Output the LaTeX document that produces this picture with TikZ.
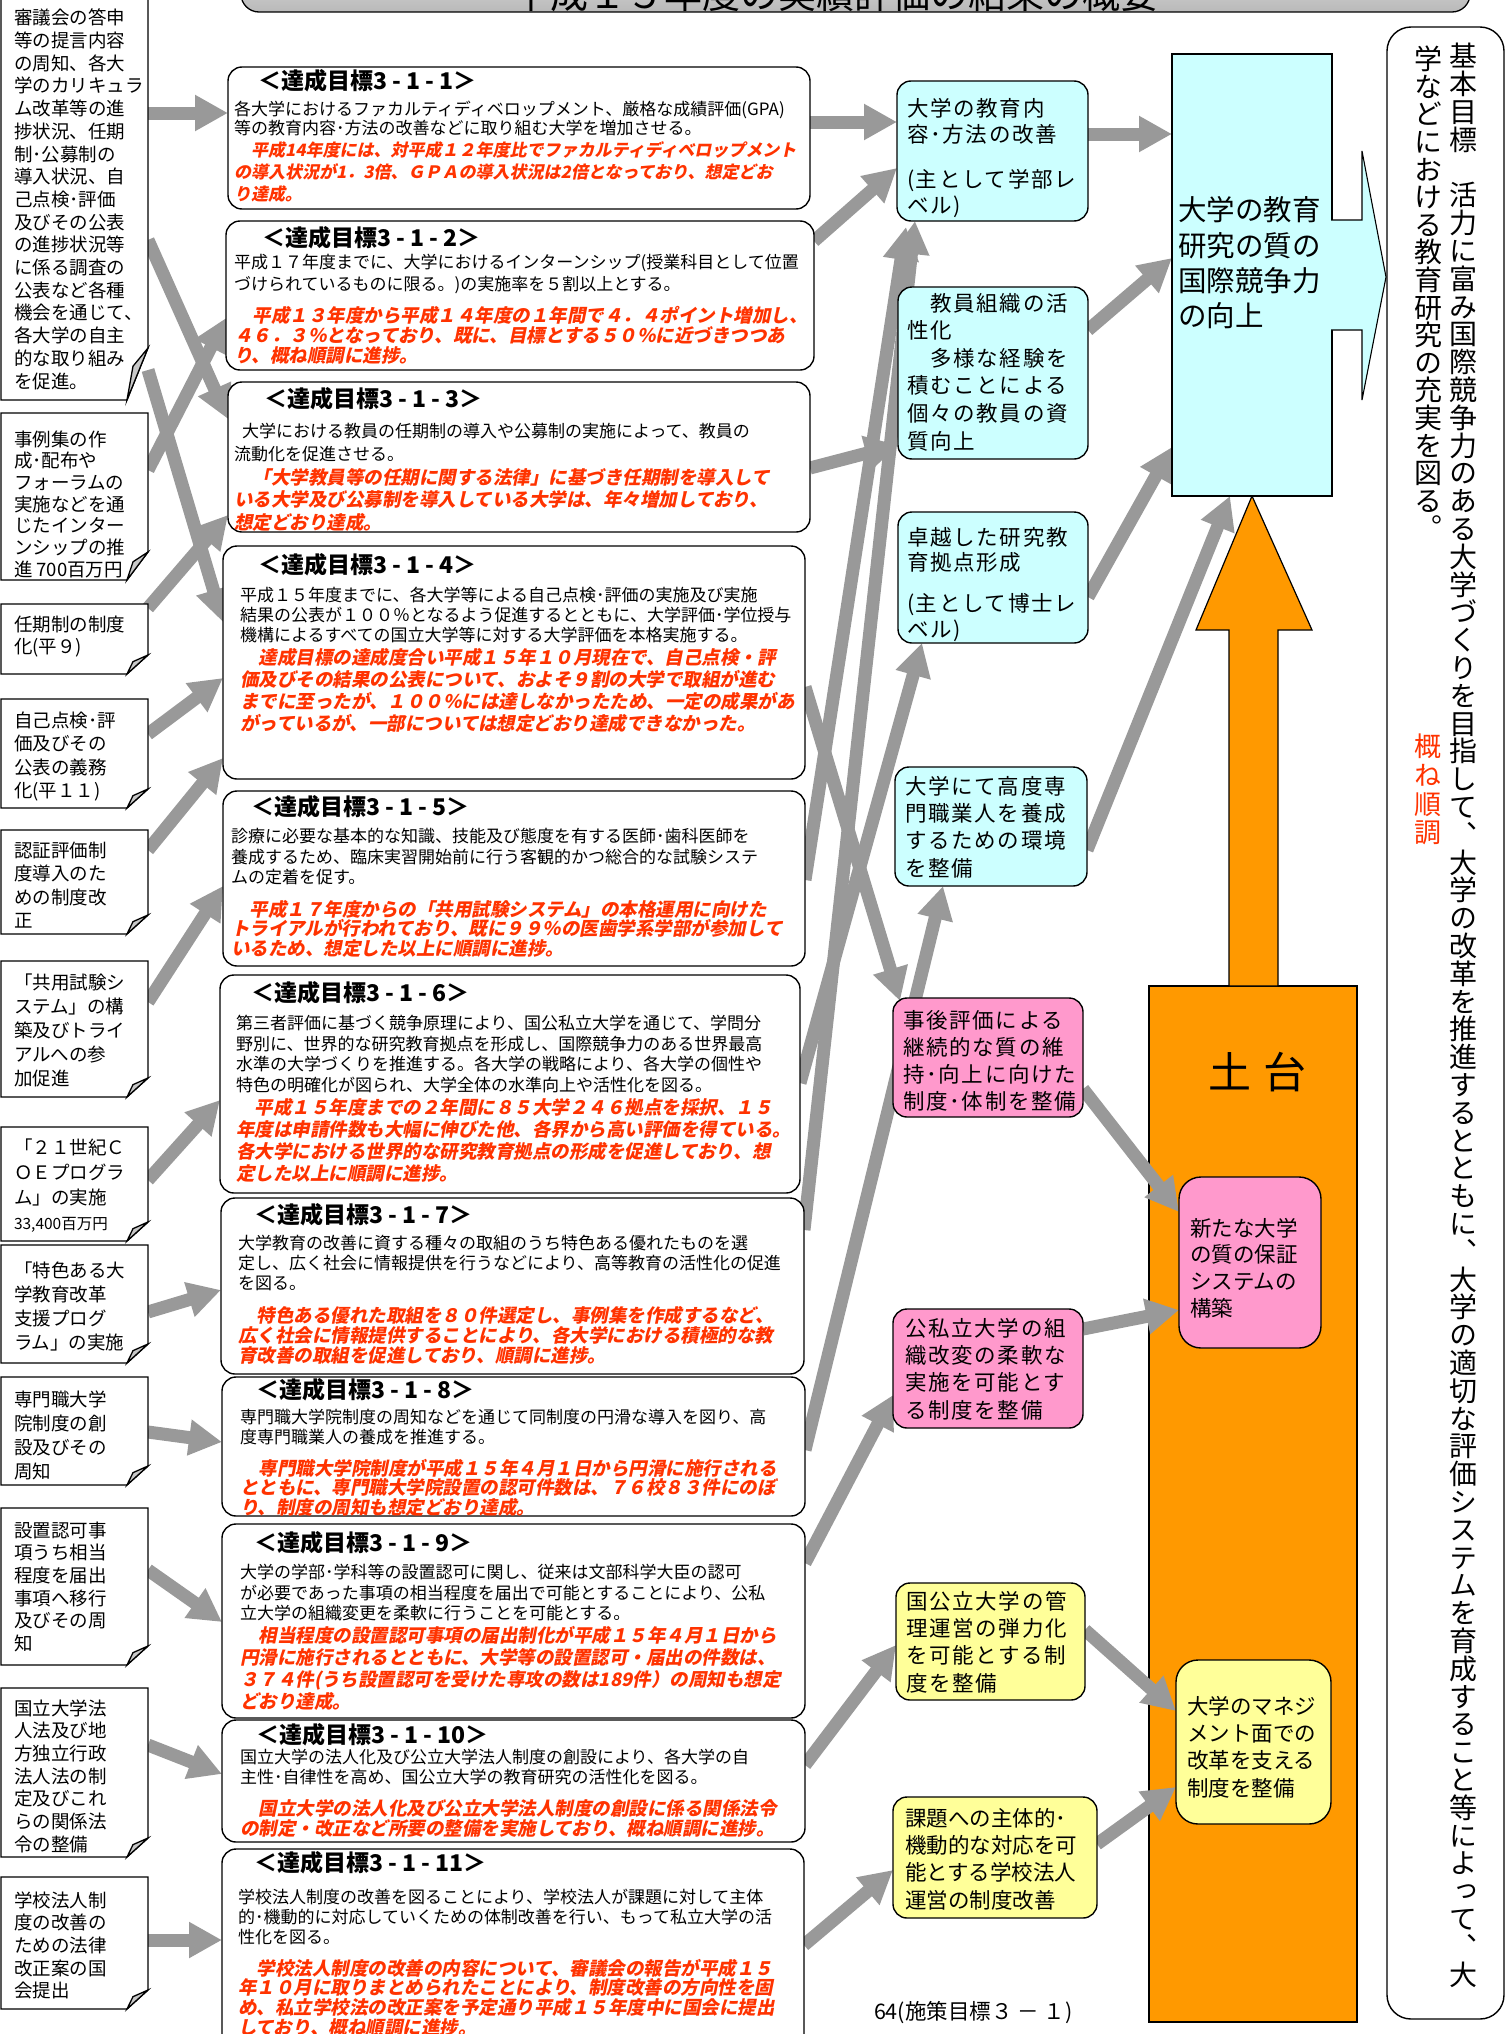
\documentclass[tikz,border=0pt]{standalone}
\usepackage{fontspec}
\newfontfamily\jp{Noto Sans CJK JP}
\newfontfamily\jpw{Noto Sans CJK JP}[LetterSpace=8]
\newfontfamily\jpsl{Noto Sans CJK JP}[FakeSlant=0.2]
\newfontfamily\jpv{Noto Sans CJK JP}[RawFeature=+vert]
\usetikzlibrary{arrows.meta,fit}
\pgfdeclarelayer{back}
\pgfdeclarelayer{mid}
\pgfsetlayers{back,mid,main}
\definecolor{agray}{RGB}{153,153,153}
\definecolor{redc}{RGB}{255,51,0}
\definecolor{cyanf}{RGB}{204,255,255}
\definecolor{pinkf}{RGB}{255,153,204}
\definecolor{yellf}{RGB}{255,255,153}
\definecolor{orangef}{RGB}{255,153,0}
\definecolor{foldg}{RGB}{200,200,200}
\newcommand\fl{\rule{0pt}{0.9em}}
\makeatletter
\newcommand\VStack[2]{\vbox{\offinterlineskip\@tfor\vs@c:=#2\do{\kern#1pt\hbox to 1em{\hss\smash{\vs@c}\hss}}}}
\makeatother
\newcommand\LBox[4]{%
 \node[fit={(1,#2) (148,#3)}] (#1) {};
 \draw[lbl, fill=white] (#1.north west) -- (#1.north east) -- ([yshift=#4pt]#1.south east) -- ([xshift=-21pt]#1.south east) -- (#1.south west) -- cycle;
 \draw[lbl, fill=foldg] ([xshift=-21pt]#1.south east) -- ([xshift=-15pt,yshift=0.65*#4pt]#1.south east) -- ([yshift=#4pt]#1.south east) -- cycle;}
\begin{document}
\begin{tikzpicture}[x=1pt,y=-1pt,
 every node/.style={inner sep=0pt, outer sep=0pt},
 lbl/.style={draw=black, line width=1.3pt},
 mbox/.style={draw=black, line width=1.4pt, rounded corners=14pt, fill=white},
 rbox/.style={draw=black, line width=1.4pt, rounded corners=14pt},
 bt/.style={anchor=north west, align=left, font=\jp\fontsize{17pt}{#1pt}\selectfont},
 rt/.style={anchor=north west, align=left, text=redc, font=\jpsl\bfseries\fontsize{18.5pt}{#1pt}\selectfont},
 rts/.style={anchor=north west, align=left, text=redc, font=\jpsl\bfseries\fontsize{17pt}{#1pt}\selectfont},
 tt/.style={anchor=north west, font=\jp\bfseries\fontsize{23pt}{23pt}\selectfont},
 lt/.style={anchor=north west, align=left, font=\jp\fontsize{18.5pt}{#1pt}\selectfont},
 qt/.style={anchor=north west, align=left, font=\jpw\fontsize{21.5pt}{#1pt}\selectfont},
 qn/.style={anchor=north west, align=left, font=\jp\fontsize{21.5pt}{#1pt}\selectfont},
 garrow/.style={draw=agray, line width=13pt, -{Triangle[width=34pt,length=33pt]}}
]
\useasboundingbox (0,0) rectangle (1508,2034);

% ---------- title ----------
\begin{pgfonlayer}{back}
\node[fit={(241,-60) (1470,12)}, draw=black, line width=1.3pt, rounded corners=18pt, top color=gray!12, bottom color=gray!55] (titlebox) {};
\node[anchor=base, font=\jp\fontsize{38pt}{38pt}\selectfont] (title) at (835,9) {平成１５年度の実績評価の結果の概要};
\node[fit={(1149,986) (1357,2022)}, draw=black, line width=1.2pt, fill=orangef] (dodai) {};
\end{pgfonlayer}

% ---------- left column ----------
\LBox{A}{-10}{400}{52}
\LBox{B}{413}{580}{28}
\LBox{C}{604}{674}{19}
\LBox{D}{699}{808}{19}
\LBox{E}{830}{934}{19}
\LBox{F}{961}{1097}{19}
\LBox{G}{1127}{1241}{19}
\LBox{H}{1245}{1363}{19}
\LBox{I}{1377}{1485}{19}
\LBox{J}{1508}{1665}{19}
\LBox{K}{1688}{1857}{19}
\LBox{L}{1877}{2009}{19}

\node[lt=22.7] (At) at (14,17.8-9.6) {\fl 審議会の答申\\等の提言内容\\の周知、各大\\学のカリキュラ\\ム改革等の進\\捗状況、任期\\制･公募制の\\導入状況、自\\己点検･評価\\及びその公表\\の進捗状況等\\に係る調査の\\公表など各種\\機会を通じて、\\各大学の自主\\的な取り組み\\を促進。};
\node[lt=21.7] (Bt) at (14,439-9.6) {\fl 事例集の作\\成･配布や\\フォーラムの\\実施などを通\\じたインター\\ンシップの推\\進 700百万円};
\node[lt=22.5] (Ct) at (14,624-9.6) {\fl 任期制の制度\\化(平９)};
\node[lt=23.5] (Dt) at (14,720-9.6) {\fl 自己点検･評\\価及びその\\公表の義務\\化(平１１)};
\node[lt=23.5] (Et) at (14,850-9.6) {\fl 認証評価制\\度導入のた\\めの制度改\\正};
\node[lt=24] (Ft) at (14,982-9.6) {\fl 「共用試験シ\\ステム」の構\\築及びトライ\\アルへの参\\加促進};
\node[lt=25] (Gt) at (14,1147-9.6) {\fl 「２１世紀Ｃ\\ＯＥプログラ\\ム」の実施};
\node[anchor=north west, font=\jp\fontsize{15.5pt}{15.5pt}\selectfont] (Gt2) at (14,1224-8.1) {\fl 33,400百万円};
\node[lt=24] (Ht) at (14,1270-9.6) {\fl 「特色ある大\\学教育改革\\支援プログ\\ラム」の実施};
\node[lt=24] (It) at (14,1399-9.6) {\fl 専門職大学\\院制度の創\\設及びその\\周知};
\node[lt=22.7] (Jt) at (14,1530-9.6) {\fl 設置認可事\\項うち相当\\程度を届出\\事項へ移行\\及びその周\\知};
\node[lt=22.7] (Kt) at (14,1708-9.6) {\fl 国立大学法\\人法及び地\\方独立行政\\法人法の制\\定及びこれ\\らの関係法\\令の整備};
\node[lt=22.7] (Lt) at (14,1900-9.6) {\fl 学校法人制\\度の改善の\\ための法律\\改正案の国\\会提出};

% ---------- middle column ----------
\node[mbox, fit={(228,67) (810,209)}] (g1) {};
\node[mbox, fit={(226,221) (814,370)}] (g2) {};
\node[mbox, fit={(228,382) (810,532)}] (g3) {};
\node[mbox, fit={(223,546) (805,779)}] (g4) {};
\node[mbox, fit={(223,791) (805,966)}] (g5) {};
\node[mbox, fit={(220,975) (800,1193)}] (g6) {};
\node[mbox, fit={(221,1198) (804,1374)}] (g7) {};
\node[mbox, fit={(222,1377) (805,1516)}] (g8) {};
\node[mbox, fit={(222,1524) (805,1718)}] (g9) {};
\node[mbox, fit={(222,1720) (805,1842)}] (g10) {};
\node[mbox, fit={(222,1849) (804,2070)}] (g11) {};

\node[tt] (g1h) at (258,81-12) {\fl ＜達成目標3 - 1 - 1＞};
\node[bt=19.6] (g1b) at (234,108.5-8.8) {\fl 各大学におけるファカルティディベロップメント、厳格な成績評価(GPA)\\等の教育内容･方法の改善などに取り組む大学を増加させる。};
\node[rts=22.2] (g1r) at (234,150-8.8) {\fl 　平成14年度には、対平成１２年度比でファカルティディベロップメント\\の導入状況が1．3倍、ＧＰＡの導入状況は2倍となっており、想定どお\\り達成。};

\node[tt] (g2h) at (262,238-12) {\fl ＜達成目標3 - 1 - 2＞};
\node[bt=22] (g2b) at (234,262-8.8) {\fl 平成１７年度までに、大学におけるインターンシップ(授業科目として位置\\づけられているものに限る。)の実施率を５割以上とする。};
\node[rt=20] (g2r) at (234,315-9.6) {\fl 　平成１３年度から平成１４年度の１年間で４．４ポイント増加し、\\４６．３％となっており、既に、目標とする５０％に近づきつつあ\\り、概ね順調に進捗。};

\node[tt] (g3h) at (264,399-12) {\fl ＜達成目標3 - 1 - 3＞};
\node[bt=23] (g3b) at (234,431-8.8) {\fl \hspace{8pt}大学における教員の任期制の導入や公募制の実施によって、教員の\\流動化を促進させる。};
\node[rt=22.5] (g3r) at (234,477-9.6) {\fl 　「大学教員等の任期に関する法律」に基づき任期制を導入して\\いる大学及び公募制を導入している大学は、年々増加しており、\\想定どおり達成。};

\node[tt] (g4h) at (258,565-12) {\fl ＜達成目標3 - 1 - 4＞};
\node[bt=20] (g4b) at (240,595-8.8) {\fl 平成１５年度までに、各大学等による自己点検･評価の実施及び実施\\結果の公表が１００％となるよう促進するとともに、大学評価･学位授与\\機構によるすべての国立大学等に対する大学評価を本格実施する。};
\node[rt=22.3] (g4r) at (240,657-9.6) {\fl 　達成目標の達成度合い平成１５年１０月現在で、自己点検・評\\価及びその結果の公表について、およそ９割の大学で取組が進む\\までに至ったが、１００％には達しなかったため、一定の成果があ\\がっているが、一部については想定どおり達成できなかった。};

\node[tt] (g5h) at (251,807-12) {\fl ＜達成目標3 - 1 - 5＞};
\node[bt=20.5] (g5b) at (231,836-8.8) {\fl 診療に必要な基本的な知識、技能及び態度を有する医師･歯科医師を\\養成するため、臨床実習開始前に行う客観的かつ総合的な試験システ\\ムの定着を促す。};
\node[rt=19.5] (g5r) at (231,909-9.6) {\fl 　平成１７年度からの「共用試験システム」の本格運用に向けた\\トライアルが行われており、既に９９％の医歯学系学部が参加して\\いるため、想定した以上に順調に進捗。};

\node[tt] (g6h) at (251,993-12) {\fl ＜達成目標3 - 1 - 6＞};
\node[bt=20.7] (g6b) at (236,1023-8.8) {\fl 第三者評価に基づく競争原理により、国公私立大学を通じて、学問分\\野別に、世界的な研究教育拠点を形成し、国際競争力のある世界最高\\水準の大学づくりを推進する。各大学の戦略により、各大学の個性や\\特色の明確化が図られ、大学全体の水準向上や活性化を図る。};
\node[rt=22.3] (g6r) at (236,1107-9.6) {\fl 　平成１５年度までの２年間に８５大学２４６拠点を採択、１５\\年度は申請件数も大幅に伸びた他、各界から高い評価を得ている。\\各大学における世界的な研究教育拠点の形成を促進しており、想\\定した以上に順調に進捗。};

\node[tt] (g7h) at (254,1215-12) {\fl ＜達成目標3 - 1 - 7＞};
\node[bt=20] (g7b) at (238,1243-8.8) {\fl 大学教育の改善に資する種々の取組のうち特色ある優れたものを選\\定し、広く社会に情報提供を行うなどにより、高等教育の活性化の促進\\を図る。};
\node[rt=20] (g7r) at (238,1315-9.6) {\fl 　特色ある優れた取組を８０件選定し、事例集を作成するなど、\\広く社会に情報提供することにより、各大学における積極的な教\\育改善の取組を促進しており、順調に進捗。};

\node[tt] (g8h) at (256,1390-12) {\fl ＜達成目標3 - 1 - 8＞};
\node[bt=20] (g8b) at (240,1417-8.8) {\fl 専門職大学院制度の周知などを通じて同制度の円滑な導入を図り、高\\度専門職業人の養成を推進する。};
\node[rt=19.5] (g8r) at (240,1468-9.6) {\fl 　専門職大学院制度が平成１５年４月１日から円滑に施行される\\とともに、専門職大学院設置の認可件数は、７６校８３件にのぼ\\り、制度の周知も想定どおり達成。};

\node[tt] (g9h) at (254,1543-12) {\fl ＜達成目標3 - 1 - 9＞};
\node[bt=20.5] (g9b) at (240,1572-8.8) {\fl 大学の学部･学科等の設置認可に関し、従来は文部科学大臣の認可\\が必要であった事項の相当程度を届出で可能とすることにより、公私\\立大学の組織変更を柔軟に行うことを可能とする。};
\node[rt=22.3] (g9r) at (240,1635-9.6) {\fl 　相当程度の設置認可事項の届出制化が平成１５年４月１日から\\円滑に施行されるとともに、大学等の設置認可・届出の件数は、\\３７４件(うち設置認可を受けた専攻の数は189件）の周知も想定\\どおり達成。};

\node[tt] (g10h) at (256,1735-12) {\fl ＜達成目標3 - 1 - 10＞};
\node[bt=20] (g10b) at (240,1757-8.8) {\fl 国立大学の法人化及び公立大学法人制度の創設により、各大学の自\\主性･自律性を高め、国公立大学の教育研究の活性化を図る。};
\node[rt=20] (g10r) at (240,1808-9.6) {\fl 　国立大学の法人化及び公立大学法人制度の創設に係る関係法令\\の制定・改正など所要の整備を実施しており、概ね順調に進捗。};

\node[tt] (g11h) at (254,1863-12) {\fl ＜達成目標3 - 1 - 11＞};
\node[bt=20] (g11b) at (238,1897-8.8) {\fl 学校法人制度の改善を図ることにより、学校法人が課題に対して主体\\的･機動的に対応していくための体制改善を行い、もって私立大学の活\\性化を図る。};
\node[rt=19.7] (g11r) at (238,1968-9.6) {\fl 　学校法人制度の改善の内容について、審議会の報告が平成１５\\年１０月に取りまとめられたことにより、制度改善の方向性を固\\め、私立学校法の改正案を予定通り平成１５年度中に国会に提出\\しており、概ね順調に進捗。};

% ---------- right column ----------
\node[rbox, fill=cyanf, fit={(897,81) (1088,221)}] (r1) {};
\node[rbox, fill=cyanf, fit={(898,287) (1088,459)}] (r2) {};
\node[rbox, fill=cyanf, fit={(898,512) (1088,643)}] (r3) {};
\node[rbox, fill=cyanf, fit={(895,767) (1087,886)}] (r4) {};
\node[rbox, fill=pinkf, fit={(893,998) (1083,1117)}] (p1) {};
\node[rbox, fill=pinkf, fit={(893,1309) (1083,1428)}] (p2) {};
\node[rbox, fill=yellf, fit={(896,1583) (1085,1700)}] (y1) {};
\node[rbox, fill=yellf, fit={(893,1797) (1097,1918)}] (y2) {};

\node[qt=26.5] (r1t) at (907,108-11.2) {\fl 大学の教育内\\容･方法の改善};
\node[qt=26.5] (r1u) at (907,179-11.2) {\fl (主として学部レ\\ベル)};
\node[qt=27.6] (r2t) at (907,303-11.2) {\fl 　教員組織の活\\性化\\　多様な経験を\\積むことによる\\個々の教員の資\\質向上};
\node[qt=25.5] (r3t) at (907,537-11.2) {\fl 卓越した研究教\\育拠点形成};
\node[qt=26.5] (r3u) at (907,603-11.2) {\fl (主として博士レ\\ベル)};
\node[qt=27.4] (r4t) at (905,786-11.2) {\fl 大学にて高度専\\門職業人を養成\\するための環境\\を整備};
\node[qt=27] (p1t) at (903,1020-11.2) {\fl 事後評価による\\継続的な質の維\\持･向上に向けた\\制度･体制を整備};
\node[qt=27.3] (p2t) at (905,1328-11.2) {\fl 公私立大学の組\\織改変の柔軟な\\実施を可能とす\\る制度を整備};
\node[qt=27.3] (y1t) at (906,1601-11.2) {\fl 国公立大学の管\\理運営の弾力化\\を可能とする制\\度を整備};
\node[qn=27.3] (y2t) at (905,1818-11.2) {\fl 課題への主体的･\\機動的な対応を可\\能とする学校法人\\運営の制度改善};

% ---------- right block ----------
\node[fit={(1172,54) (1332,496)}, draw=black, line width=1.1pt, fill=cyanf] (big) {};
\node[anchor=north west, align=left, font=\jp\fontsize{28.5pt}{35.2pt}\selectfont] (bigt) at (1178,210-14.8) {\fl 大学の教育\\研究の質の\\国際競争力\\の向上};
\path[fill=cyanf, draw=black, line width=1.1pt, line join=miter]
 ([xshift=-1pt,yshift=55pt]big.east) -- ([xshift=30pt,yshift=55pt]big.east) -- ([xshift=30pt,yshift=124pt]big.east) -- ([xshift=54pt,yshift=-2pt]big.east) -- ([xshift=30pt,yshift=-125pt]big.east) -- ([xshift=30pt,yshift=-55pt]big.east) -- ([xshift=-1pt,yshift=-55pt]big.east);

\node[fit={(1387,27) (1504,2019)}, draw=black, line width=1.4pt, rounded corners=24pt, fill=white] (goal) {};
\node[anchor=north, font=\jpv\fontsize{28pt}{28pt}\selectfont] (vt1) at (1463,39) {\VStack{27.8}{基本目標　活力に富み国際競争力のある大学づくりを目指して、大学の改革を推進するとともに、大学の適切な評価システムを育成すること等によって、大}};
\node[anchor=north, font=\jpv\fontsize{28pt}{28pt}\selectfont] (vt2) at (1428,42) {\VStack{27.6}{学などにおける教育研究の充実を図る。}};
\node[anchor=north, text=redc, font=\jpv\fontsize{27pt}{27pt}\selectfont] (vt3) at (1428,728) {\VStack{28.7}{概ね順調}};

\begin{pgfonlayer}{back}
\draw[fill=orangef, line width=1.2pt, line join=miter] (big.south) -- ([xshift=59pt,yshift=356pt]dodai.north) -- ([xshift=25pt,yshift=356pt]dodai.north) -- ([xshift=25pt]dodai.north) -- ([xshift=-24pt]dodai.north) -- ([xshift=-24pt,yshift=356pt]dodai.north) -- ([xshift=-57pt,yshift=356pt]dodai.north) -- cycle;
\end{pgfonlayer}
\node[font=\jp\fontsize{43pt}{43pt}\selectfont] (dodait) at (1257,1072) {土\hspace{12pt}台};
\node[rbox, fill=pinkf, rounded corners=22pt, fit={(1179,1177) (1321,1348)}] (n1) {};
\node[rbox, fill=yellf, rounded corners=22pt, fit={(1176,1660) (1331,1824)}] (n2) {};
\node[qn=26.8] (n1t) at (1190,1228-11.2) {\fl 新たな大学\\の質の保証\\システムの\\構築};
\node[qn=27.3] (n2t) at (1187,1706-11.2) {\fl 大学のマネジ\\メント面での\\改革を支える\\制度を整備};

\node[anchor=north west, font=\jp\fontsize{21.5pt}{21.5pt}\selectfont] (foot) at (874,2011-11.2) {\fl 64(施策目標３ － １)};

% ---------- connectors ----------
\begin{pgfonlayer}{mid}
\draw[garrow] (A.east |- 0,113) -- (g1.west |- 0,113);
\draw[garrow] (A.east |- 0,240) -- (g3.west |- 0,419);
\draw[garrow] (A.east |- 0,370) -- (g4.west |- 0,622);
\draw[garrow] (B.east |- 0,470) -- (g2.west |- 0,318);
\draw[garrow] (C.east |- 0,608) -- (g3.west |- 0,515);
\draw[garrow] (D.east |- 0,734) -- (g4.west |- 0,678);
\draw[garrow] (E.east |- 0,850) -- (g4.west |- 0,758);
\draw[garrow] (F.east |- 0,1002) -- (g5.west |- 0,886);
\draw[garrow] (G.east |- 0,1180) -- (g6.west |- 0,1100);
\draw[garrow] (H.east |- 0,1312) -- (g7.west |- 0,1290);
\draw[garrow] (I.east |- 0,1432) -- (g8.west |- 0,1442);
\draw[garrow] (J.east |- 0,1570) -- (g9.west |- 0,1622);
\draw[garrow] (K.east |- 0,1745) -- (g10.west |- 0,1774);
\draw[garrow] (L.east |- 0,1940) -- (g11.west |- 0,1940);

\draw[garrow] (g1.east |- 0,122) -- (r1.west |- 0,122);
\draw[garrow] (g2.east |- 0,241) -- (r1.west |- 0,168);
\draw[garrow] (g3.east |- 0,468) -- (r2.west |- 0,445);
\draw[garrow] (g4.east |- 0,687) -- ([xshift=7pt,yshift=-3pt]p1.north west);
\draw[garrow] (g5.east |- 0,880) -- ([xshift=9pt,yshift=-6pt]r1.south west);
\draw[garrow] (g6.east |- 0,1083) -- ([xshift=24pt]r3.south west);
\draw[garrow] (g7.east |- 0,1230) -- ([xshift=18pt]r1.south west);
\draw[garrow] (g8.east |- 0,1450) -- ([xshift=48pt]r4.south west);
\draw[garrow] (g9.east |- 0,1563) -- (p2.west |- 0,1395);
\draw[garrow] (g10.east |- 0,1765) -- (y1.west |- 0,1645);
\draw[garrow] (g11.east |- 0,1945) -- (y2.west |- 0,1870);

\draw[garrow] (r1.east |- 0,134) -- (big.west |- 0,134);
\draw[garrow] (r2.east |- 0,330) -- (big.west |- 0,258);
\draw[garrow] (r3.east |- 0,597) -- (big.west |- 0,447);
\draw[garrow] (r4.east |- 0,850) -- ([xshift=-22pt]big.south);
\draw[garrow] (p1.east |- 0,1089) -- (n1.west |- 0,1212);
\draw[garrow] (p2.east |- 0,1329) -- (n1.west |- 0,1310);
\draw[garrow] (y1.east |- 0,1630) -- (n2.west |- 0,1711);
\draw[garrow] (y2.east |- 0,1844) -- (n2.west |- 0,1787);
\end{pgfonlayer}
\end{tikzpicture}
\end{document}
